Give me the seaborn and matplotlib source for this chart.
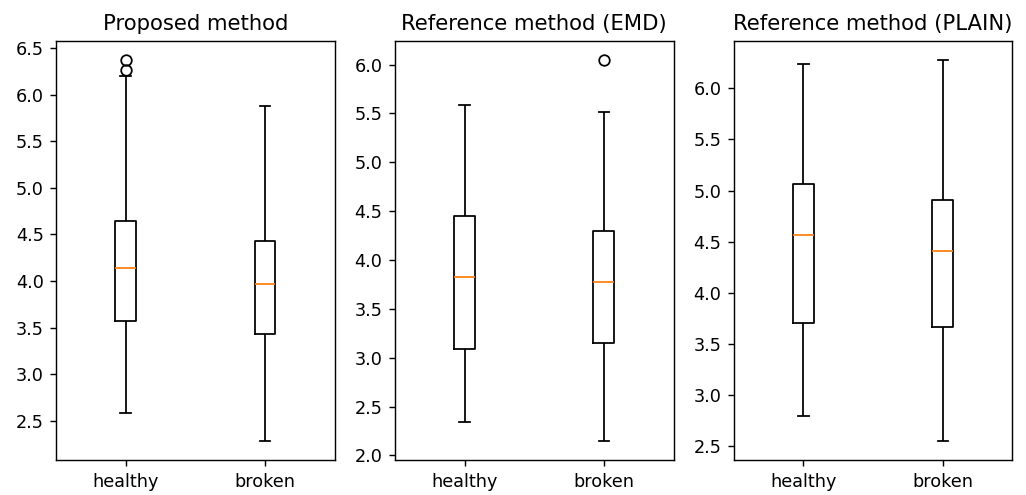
import matplotlib
matplotlib.use("Agg")
import matplotlib.pyplot as plt
from matplotlib.ticker import MultipleLocator, FormatStrFormatter
import seaborn as sns
import pandas as pd

categories = ["healthy", "broken"]
titles = ["Proposed method", "Reference method (EMD)", "Reference method (PLAIN)"]

# box statistics: [healthy, broken]
proposed_low = [2.58, 2.28]
proposed_q1 = [3.575, 3.43]
proposed_median = [4.14, 3.965]
proposed_q3 = [4.64, 4.43]
proposed_high = [6.20, 5.875]
proposed_outliers = [[6.26, 6.375], []]

emd_low = [2.345, 2.145]
emd_q1 = [3.09, 3.15]
emd_median = [3.83, 3.775]
emd_q3 = [4.45, 4.30]
emd_high = [5.585, 5.51]
emd_outliers = [[], [6.05]]

plain_low = [2.80, 2.55]
plain_q1 = [3.71, 3.67]
plain_median = [4.57, 4.405]
plain_q3 = [5.06, 4.91]
plain_high = [6.235, 6.28]
plain_outliers = [[], []]

panels = [
    (proposed_low, proposed_q1, proposed_median, proposed_q3, proposed_high, proposed_outliers),
    (emd_low, emd_q1, emd_median, emd_q3, emd_high, emd_outliers),
    (plain_low, plain_q1, plain_median, plain_q3, plain_high, plain_outliers),
]


def sample_from_stats(lo, q1, med, q3, hi, outs):
    # a sample whose linear-interpolated quartiles equal the given statistics
    k = len(outs) + 1
    return [lo] + [q1] * k + [med] * k + [q3] * k + [hi] + list(outs)


S = 1.27  # the reference appears rendered at ~127 dpi

fig, axes = plt.subplots(1, 3, figsize=(10.26, 4.95), dpi=100)
fig.subplots_adjust(left=0.0546, right=0.9868, bottom=0.070, top=0.918, wspace=0.216)

for ax, title, stats in zip(axes, titles, panels):
    rows = []
    for i, cat in enumerate(categories):
        vals = sample_from_stats(*(s[i] for s in stats))
        rows += [(cat, v) for v in vals]
    df = pd.DataFrame(rows, columns=["group", "value"])
    sns.boxplot(
        data=df, x="group", y="value", order=categories, ax=ax,
        width=0.15, fill=False, color="black", linewidth=1.0 * S, whis=1.5,
        medianprops=dict(color="#ff7f0e", linewidth=1.0 * S),
        flierprops=dict(marker="o", markerfacecolor="none", markeredgewidth=1.0 * S,
                        markeredgecolor="black", markersize=6 * S, linestyle="none"),
    )
    ax.set_title(title, fontsize=12 * S, pad=6 * S)
    ax.set_xlabel("")
    ax.set_ylabel("")
    ax.yaxis.set_major_locator(MultipleLocator(0.5))
    ax.yaxis.set_major_formatter(FormatStrFormatter("%.1f"))
    ax.tick_params(labelsize=10 * S, length=3.5 * S, width=0.8 * S, pad=3.5 * S)
    for sp in ax.spines.values():
        sp.set_linewidth(0.8 * S)

fig.savefig("out.png", dpi=100)
